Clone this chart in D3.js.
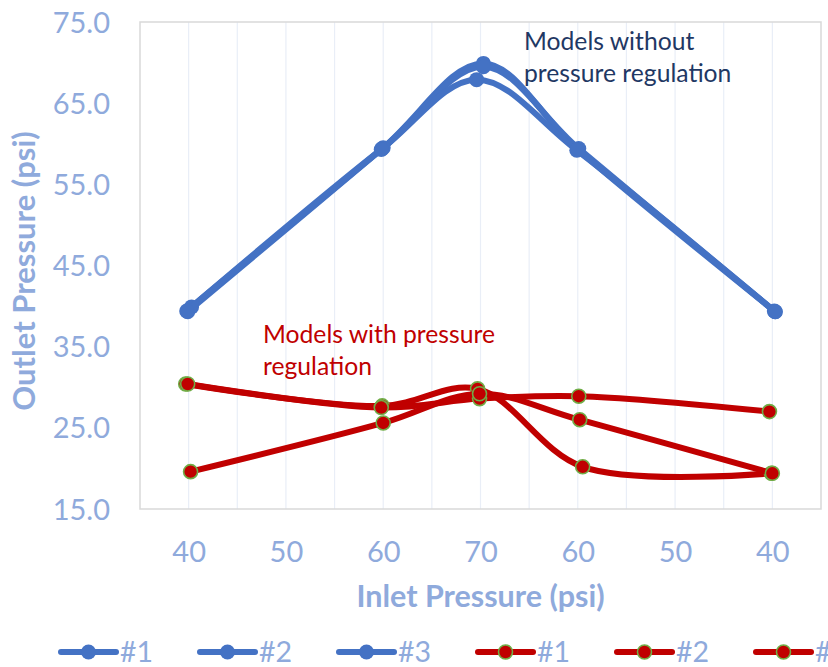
<!DOCTYPE html>
<html>
<head>
<meta charset="utf-8">
<script src="https://cdn.jsdelivr.net/npm/d3@7"></script>
<style>
  html, body { margin: 0; padding: 0; background: #ffffff; }
  svg { display: block; }
  text { font-family: Lato, "Open Sans", sans-serif; }
</style>
</head>
<body>
<svg id="chart" width="828" height="667"></svg>
<script>
// Inlet pressure is swept up 40 -> 70 and back down to 40, so the x axis runs 40..100
// and the tick labels fold back on the way down.
const xTickValues = [40, 50, 60, 70, 80, 90, 100];
const xTickLabels = ["40", "50", "60", "70", "60", "50", "40"];
const yTickValues = [15, 25, 35, 45, 55, 65, 75];

// Models without pressure regulation
const noRegNames = ["#1", "#2", "#3"];
const noRegX1 = [39.9, 59.9, 70.3, 80.0, 100.3];
const noRegY1 = [39.3, 59.4, 69.9, 59.3, 39.3];
const noRegX2 = [40.3, 60.0, 70.3, 80.1, 100.2];
const noRegY2 = [39.9, 59.5, 69.5, 59.4, 39.4];
const noRegX3 = [39.8, 59.8, 69.6, 79.9, 100.3];
const noRegY3 = [39.4, 59.3, 67.9, 59.2, 39.3];

// Models with pressure regulation
const regNames = ["#1", "#2", "#3"];
const regX1 = [39.7, 59.9, 69.7, 80.5, 99.9];
const regY1 = [30.4, 27.7, 29.8, 20.2, 19.4];
const regX2 = [39.9, 59.8, 69.9, 80.1, 99.7];
const regY2 = [30.4, 27.5, 28.6, 28.9, 27.0];
const regX3 = [40.2, 60.0, 69.9, 80.2, 100.0];
const regY3 = [19.6, 25.6, 29.2, 26.0, 19.4];

const BLUE = "#4472C4";
const RED = "#C00000";
const GREEN = "#70AD47";
const AXIS_TEXT = "#8FAADC";

const svg = d3.select("#chart");
const plot = { left: 140, right: 821, top: 22, bottom: 509 };

const x = d3.scaleLinear().domain([35, 105]).range([plot.left, plot.right]);
const y = d3.scaleLinear().domain([15, 75]).range([plot.bottom, plot.top]);

// vertical gridlines every 5 psi
const gridValues = d3.range(40, 101, 5);
svg.append("g")
  .selectAll("line")
  .data(gridValues)
  .join("line")
  .attr("x1", d => x(d)).attr("x2", d => x(d))
  .attr("y1", plot.top).attr("y2", plot.bottom)
  .attr("stroke", "#E9EEF7").attr("stroke-width", 1.2);

// plot frame
svg.append("rect")
  .attr("x", plot.left).attr("y", plot.top)
  .attr("width", plot.right - plot.left).attr("height", plot.bottom - plot.top)
  .attr("fill", "none").attr("stroke", "#D9D9D9").attr("stroke-width", 1.5);

// y axis labels
const yAxis = d3.axisLeft(y).tickValues(yTickValues).tickFormat(d3.format(".1f")).tickSize(0).tickPadding(30);
const gy = svg.append("g").attr("transform", `translate(${plot.left},0)`).call(yAxis);
gy.select(".domain").remove();
gy.selectAll("text").attr("fill", AXIS_TEXT).style("font-size", "29px").style("font-family", "Lato").attr("dy", "0.35em");

// x axis labels
const xAxis = d3.axisBottom(x).tickValues(xTickValues).tickFormat((d, i) => xTickLabels[i]).tickSize(0).tickPadding(0);
const gx = svg.append("g").attr("transform", `translate(0,${plot.bottom})`).call(xAxis);
gx.select(".domain").remove();
gx.selectAll("text").attr("fill", AXIS_TEXT).style("font-size", "29px").style("font-family", "Lato")
  .attr("y", 53).attr("dy", 0);

// axis titles
svg.append("text")
  .attr("x", (plot.left + plot.right) / 2).attr("y", 607)
  .attr("text-anchor", "middle").attr("fill", AXIS_TEXT)
  .style("font-size", "30.5px").style("font-weight", "bold")
  .text("Inlet Pressure (psi)");

svg.append("text")
  .attr("transform", "translate(35,271) rotate(-90)")
  .attr("text-anchor", "middle").attr("fill", AXIS_TEXT)
  .style("font-size", "31px").style("font-weight", "bold")
  .text("Outlet Pressure (psi)");

// series
const zipXY = (xs, ys) => xs.map((v, i) => ({ x: v, y: ys[i] }));
const series = [
  { name: noRegNames[0], pts: zipXY(noRegX1, noRegY1), kind: "noReg" },
  { name: noRegNames[1], pts: zipXY(noRegX2, noRegY2), kind: "noReg" },
  { name: noRegNames[2], pts: zipXY(noRegX3, noRegY3), kind: "noReg" },
  { name: regNames[0], pts: zipXY(regX1, regY1), kind: "reg" },
  { name: regNames[1], pts: zipXY(regX2, regY2), kind: "reg" },
  { name: regNames[2], pts: zipXY(regX3, regY3), kind: "reg" }
];

const line = d3.line()
  .x(d => x(d.x)).y(d => y(d.y))
  .curve(d3.curveCatmullRom.alpha(0.5));

const styleOf = s => s.kind === "noReg"
  ? { line: BLUE, fill: BLUE, stroke: BLUE, r: 7.5, sw: 0 }
  : { line: RED, fill: RED, stroke: GREEN, r: 7, sw: 1.6 };

const gSeries = svg.append("g");
series.forEach(s => {
  const st = styleOf(s);
  const g = gSeries.append("g");
  g.append("path")
    .datum(s.pts)
    .attr("d", line)
    .attr("fill", "none")
    .attr("stroke", st.line)
    .attr("stroke-width", 6)
    .attr("stroke-linecap", "round")
    .attr("stroke-linejoin", "round");
  g.selectAll("circle")
    .data(s.pts)
    .join("circle")
    .attr("cx", d => x(d.x)).attr("cy", d => y(d.y))
    .attr("r", st.r)
    .attr("fill", st.fill)
    .attr("stroke", st.stroke)
    .attr("stroke-width", st.sw);
});

// annotations
const noRegNote = svg.append("text").attr("fill", "#1F3864").style("font-size", "24.7px");
noRegNote.append("tspan").attr("x", 524).attr("y", 50).text("Models without");
noRegNote.append("tspan").attr("x", 524).attr("y", 82).text("pressure regulation");

const regNote = svg.append("text").attr("fill", RED).style("font-size", "24.7px");
regNote.append("tspan").attr("x", 263).attr("y", 343).text("Models with pressure");
regNote.append("tspan").attr("x", 263).attr("y", 375).text("regulation");

// legend
const legendX = [61, 200, 339, 478, 617, 756];
const legend = svg.append("g");
series.forEach((s, i) => {
  const st = styleOf(s);
  const g = legend.append("g").attr("transform", `translate(${legendX[i]},652)`);
  g.append("line").attr("x1", 0).attr("x2", 55).attr("y1", 0).attr("y2", 0)
    .attr("stroke", st.line).attr("stroke-width", 6).attr("stroke-linecap", "round");
  g.append("circle").attr("cx", 27.5).attr("cy", 0).attr("r", st.r)
    .attr("fill", st.fill).attr("stroke", st.stroke).attr("stroke-width", st.sw);
  g.append("text").attr("x", 59).attr("y", 10)
    .attr("fill", AXIS_TEXT).style("font-size", "28.5px")
    .text(s.name);
});
</script>
</body>
</html>
